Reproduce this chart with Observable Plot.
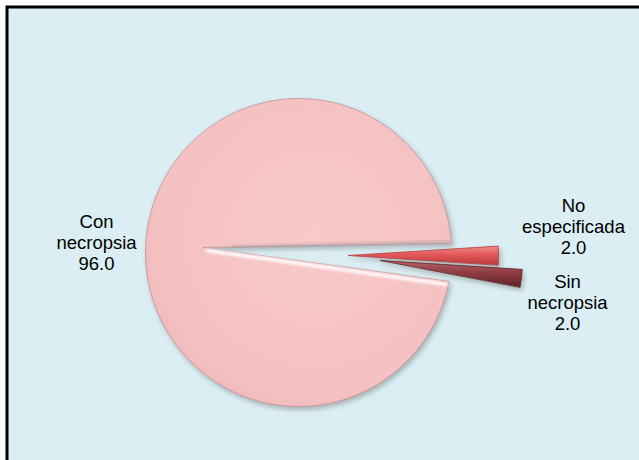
<!DOCTYPE html>
<html><head><meta charset="utf-8">
<script src="https://cdn.jsdelivr.net/npm/d3@7"></script>
<script src="https://cdn.jsdelivr.net/npm/@observablehq/plot@0.6"></script>
<style>html,body{margin:0;padding:0;background:#fff;}</style>
</head><body><div id="chart"></div>
<script>
// ---- data ----
const categories = ["No especificada", "Sin necropsia", "Con necropsia"];
const values = [2.0, 2.0, 96.0];
const labelNames = ["No\nespecificada", "Sin\nnecropsia", "Con\nnecropsia"];

// ---- layout / style (not data) ----
const W = 639, H = 460;
const geom = {
  "Con necropsia":   {apex: [203, 247], center: [298, 252], rx: 153, ry: 154},
  "No especificada": {apex: [348, 255], center: [348, 255], rx: 150, ry: 150},
  "Sin necropsia":   {apex: [380, 260], center: [380, 260], rx: 142, ry: 142}
};
const labelPos = {
  "No especificada": [573, 226],
  "Sin necropsia":   [567, 302],
  "Con necropsia":   [96, 242]
};
const fills = {
  "Con necropsia": "url(#gBig)",
  "No especificada": "url(#gRed)",
  "Sin necropsia": "url(#gDark)"
};
const strokes = {
  "Con necropsia": "#bf9397",
  "No especificada": "#b04040",
  "Sin necropsia": "#5a2022"
};

// ---- slice geometry from values ----
const total = d3.sum(values);
let a = -values[0] / total * 180; // first slice centred on east
const slices = categories.map((c, i) => {
  const a0 = a, a1 = a + values[i] / total * 360;
  a = a1;
  const g = geom[c];
  const pts = [{x: g.apex[0], y: g.apex[1], c}];
  const n = Math.max(4, Math.ceil(a1 - a0));
  for (let k = 0; k <= n; k++) {
    const t = (a0 + (a1 - a0) * k / n) * Math.PI / 180;
    pts.push({x: g.center[0] + g.rx * Math.cos(t), y: g.center[1] + g.ry * Math.sin(t), c});
  }
  return {c, a0, a1, pts, value: values[i], label: labelNames[i]};
});

const big = slices[2];
const gB = geom["Con necropsia"];
const ta = big.a0 * Math.PI / 180;
const tb = big.a1 * Math.PI / 180;
const highlight = [
  {x: gB.apex[0] + 4, y: gB.apex[1] + 3},
  {x: gB.center[0] + gB.rx * Math.cos(ta) - 3, y: gB.center[1] + gB.ry * Math.sin(ta) + 3}
];
const underside = [
  {x: gB.apex[0] + 30, y: gB.apex[1] - 1},
  {x: gB.center[0] + gB.rx * Math.cos(tb) - 2, y: gB.center[1] + gB.ry * Math.sin(tb) - 1.5}
];

const labels = slices.map(s => ({
  x: labelPos[s.c][0], y: labelPos[s.c][1],
  text: s.label + "\n" + s.value.toFixed(1)
}));

const marks = [
  Plot.frame({fill: "#daeef3", stroke: "black", strokeWidth: 3,
    insetLeft: 6.5, insetTop: 6.5, insetRight: -12, insetBottom: -12})
];
for (const s of slices) {
  marks.push(Plot.line(s.pts, {x: "x", y: "y", curve: "linear-closed",
    fill: fills[s.c], stroke: strokes[s.c], strokeWidth: 0.8}));
}
marks.push(Plot.line(highlight, {x: "x", y: "y", stroke: "white", strokeWidth: 4, strokeOpacity: 0.85}));
marks.push(Plot.line(underside, {x: "x", y: "y", stroke: "#9a8a8c", strokeWidth: 2, strokeOpacity: 0.5}));
marks.push(Plot.text(labels, {x: "x", y: "y", text: "text", fontSize: 18.5, lineHeight: 1.13,
  fill: "black", fontFamily: "Liberation Sans, Arial, sans-serif", lineAnchor: "middle"}));

const chart = Plot.plot({
  width: W, height: H, margin: 0,
  x: {domain: [0, W], range: [0, W], axis: null},
  y: {domain: [0, H], range: [0, H], axis: null},
  style: {background: "white", overflow: "visible"},
  marks
});

const svg = d3.select(chart);
const defs = svg.insert("defs", ":first-child");
const rg = defs.append("radialGradient").attr("id", "gBig").attr("cx", "0.55").attr("cy", "0.45").attr("r", "0.62");
[["0", "#f8c9c9"], ["0.82", "#f5c1c2"], ["0.95", "#f0b9bb"], ["1", "#dfa6aa"]].forEach(([o, c]) =>
  rg.append("stop").attr("offset", o).attr("stop-color", c));
const lr = defs.append("linearGradient").attr("id", "gRed").attr("x1", 0).attr("y1", 0).attr("x2", 0).attr("y2", 1);
[["0", "#f28a86"], ["0.45", "#e4585a"], ["1", "#b83a3d"]].forEach(([o, c]) =>
  lr.append("stop").attr("offset", o).attr("stop-color", c));
const ld = defs.append("linearGradient").attr("id", "gDark").attr("x1", 0).attr("y1", 0).attr("x2", 0).attr("y2", 1);
[["0", "#b5636a"], ["0.45", "#8f3d42"], ["1", "#5e2225"]].forEach(([o, c]) =>
  ld.append("stop").attr("offset", o).attr("stop-color", c));
const f = defs.append("filter").attr("id", "shadow").attr("x", "-20%").attr("y", "-20%").attr("width", "140%").attr("height", "140%");
f.append("feDropShadow").attr("dx", 2).attr("dy", 3).attr("stdDeviation", 2.5).attr("flood-color", "#6a6a6a").attr("flood-opacity", 0.45);
const fb = defs.append("filter").attr("id", "blur");
fb.append("feGaussianBlur").attr("stdDeviation", 1.2);

const lineGroups = svg.selectAll("g[aria-label='line']").nodes();
lineGroups.slice(0, 3).forEach(n => d3.select(n).attr("filter", "url(#shadow)"));
lineGroups.slice(3, 5).forEach(n => d3.select(n).attr("filter", "url(#blur)"));

document.getElementById("chart").appendChild(chart);
</script>
</body></html>
